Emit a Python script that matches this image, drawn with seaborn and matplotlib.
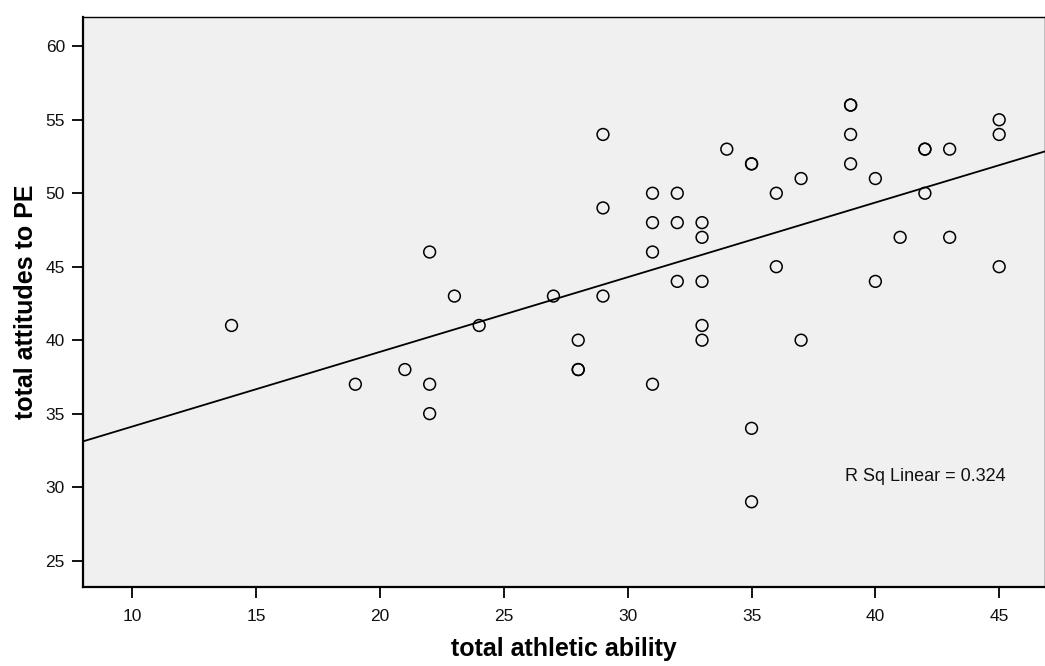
import matplotlib
matplotlib.use("Agg")
import matplotlib.pyplot as plt
import seaborn as sns
import pandas as pd

athletic = [14, 19, 21, 22, 22, 22, 23, 24, 27, 28, 28, 28, 29, 29, 29,
            31, 31, 31, 31, 32, 32, 32, 33, 33, 33, 33, 33, 34, 35, 35,
            35, 35, 36, 36, 37, 37, 39, 39, 39, 39, 40, 40, 41, 42, 42,
            42, 43, 43, 45, 45, 45]
attitudes = [41, 37, 38, 46, 37, 35, 43, 41, 43, 40, 38, 38, 54, 49, 43,
             50, 48, 46, 37, 50, 48, 44, 48, 47, 44, 41, 40, 53, 52, 52,
             34, 29, 50, 45, 51, 40, 56, 56, 54, 52, 51, 44, 47, 53, 53,
             50, 53, 47, 55, 54, 45]
x_ticks = [10, 15, 20, 25, 30, 35, 40, 45]
y_ticks = [25, 30, 35, 40, 45, 50, 55, 60]
r_sq_label = "R Sq Linear = 0.324"

df = pd.DataFrame({"total athletic ability": athletic,
                   "total attitudes to PE": attitudes})

sns.set_theme(style="white")
plt.rcParams["font.family"] = ["Liberation Sans", "DejaVu Sans"]

fig = plt.figure(figsize=(10.45, 6.66), dpi=100)
ax = fig.add_axes([0.0794, 0.1186, 0.9206, 0.856])
ax.set_facecolor("#f0f0f0")
ax.set_xlim(8.0, 46.85)
ax.set_ylim(23.2, 62.0)

sns.regplot(data=df, x="total athletic ability", y="total attitudes to PE",
            ax=ax, ci=None, truncate=False,
            scatter_kws=dict(s=72, facecolors="none", edgecolors="black",
                             linewidths=1.1, alpha=1.0),
            line_kws=dict(color="black", lw=1.3))

ax.set_xlim(8.0, 46.85)
ax.set_ylim(23.2, 62.0)
ax.set_xticks(x_ticks)
ax.set_yticks(y_ticks)
ax.tick_params(axis="both", direction="out", length=8, width=1.3,
               color="black", labelsize=12.5, labelcolor="#111111",
               bottom=True, left=True, pad=5)
ax.tick_params(axis="x", pad=8)

for side in ["left", "bottom"]:
    ax.spines[side].set_color("black")
    ax.spines[side].set_linewidth(1.6)
for side in ["top", "right"]:
    ax.spines[side].set_color("black")
    ax.spines[side].set_linewidth(1.0)

ax.set_xlabel("total athletic ability", fontsize=18, fontweight="bold",
              labelpad=9, color="black")
ax.set_ylabel("total attitudes to PE", fontsize=18, fontweight="bold",
              labelpad=5, color="black")

ax.text(0.792, 0.193, r_sq_label, transform=ax.transAxes, ha="left",
        va="center", fontsize=13, color="#111111")

fig.savefig("out.png", dpi=100)
